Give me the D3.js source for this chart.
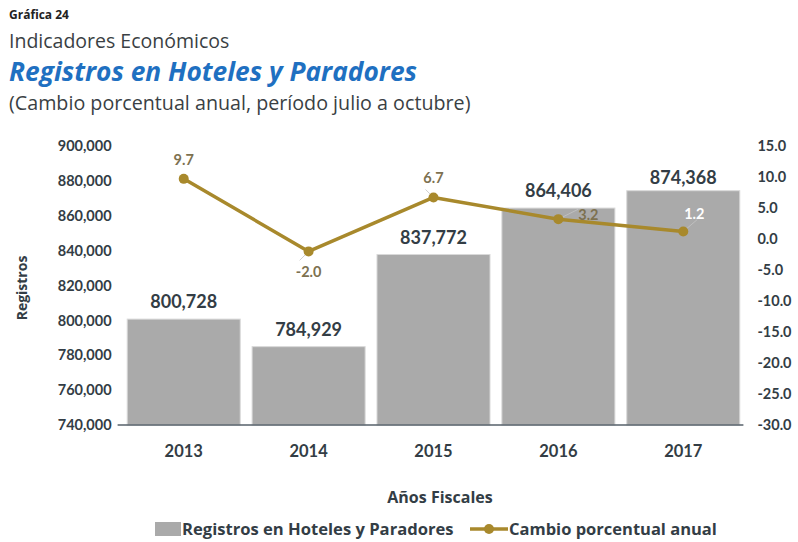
<!DOCTYPE html>
<html>
<head>
<meta charset="utf-8">
<script src="https://cdn.jsdelivr.net/npm/d3@7"></script>
<style>
  body { margin: 0; background: #fff; }
  svg { font-family: Lato, "Open Sans", sans-serif; }
  .wide { font-family: "Open Sans", sans-serif; }
</style>
</head>
<body>
<div id="chart"></div>
<script>
// data
const years = ["2013", "2014", "2015", "2016", "2017"];
const registros = [800728, 784929, 837772, 864406, 874368];
const cambio = [9.7, -2.0, 6.7, 3.2, 1.2];
const leftTicks = [740000, 760000, 780000, 800000, 820000, 840000, 860000, 880000, 900000];
const rightTicks = [-30, -25, -20, -15, -10, -5, 0, 5, 10, 15];

const W = 798, H = 542;
const plot = {left: 121.6, right: 745.4, top: 146, bottom: 425};
const textDark = "#333d45";
const gold = "#a8892c";
const labelOlive = "#7d7150";

// plain hyphen for negatives, like the original
const loc = d3.formatLocale({decimal: ".", thousands: ",", grouping: [3], currency: ["$", ""], minus: "-"});
const fmtPct = loc.format(".1f");
const fmtInt = loc.format(",");

const svg = d3.select("#chart").append("svg")
  .attr("width", W).attr("height", H);

// heading block
svg.append("text").attr("class", "wide").attr("x", 9).attr("y", 19)
  .attr("font-size", 12).attr("font-weight", "bold").attr("fill", "#222")
  .text("Gráfica 24");
svg.append("text").attr("class", "wide").attr("x", 9).attr("y", 48)
  .attr("font-size", 19.5).attr("fill", "#3a3f44")
  .text("Indicadores Económicos");
svg.append("text").attr("class", "wide").attr("x", 9).attr("y", 81)
  .attr("font-size", 26.3).attr("font-weight", "bold").attr("font-style", "italic")
  .attr("fill", "#1f70c1")
  .text("Registros en Hoteles y Paradores");
svg.append("text").attr("class", "wide").attr("x", 9).attr("y", 110)
  .attr("font-size", 19.7).attr("fill", "#3a3f44")
  .text("(Cambio porcentual anual, período julio a octubre)");

// scales
const x = d3.scaleBand().domain(years)
  .range([plot.left, plot.right]).paddingInner(0.095).paddingOuter(0.045);
const y = d3.scaleLinear().domain([740000, 900000]).range([plot.bottom, plot.top]);
const y2 = d3.scaleLinear().domain([-30, 15]).range([plot.bottom, plot.top]);

// bars
svg.append("g").selectAll("rect")
  .data(years)
  .join("rect")
    .attr("x", d => x(d))
    .attr("y", (d, i) => y(registros[i]))
    .attr("width", x.bandwidth())
    .attr("height", (d, i) => plot.bottom - y(registros[i]))
    .attr("fill", "#aaaaaa")
    .attr("stroke", "#d9d9d9")
    .attr("stroke-width", 1);

// bar value labels
svg.append("g").selectAll("text")
  .data(years)
  .join("text")
    .attr("x", d => x(d) + x.bandwidth() / 2)
    .attr("y", (d, i) => y(registros[i]) - (i == 4 ? 7 : 11))
    .attr("text-anchor", "middle")
    .attr("font-size", 18).attr("font-weight", "bold").attr("fill", textDark)
    .text((d, i) => fmtInt(registros[i]));

// baseline
svg.append("line")
  .attr("x1", plot.left - 4).attr("x2", plot.right - 2)
  .attr("y1", plot.bottom).attr("y2", plot.bottom)
  .attr("stroke", "#56606a").attr("stroke-width", 1.5);

// left axis
const leftAxis = svg.append("g")
  .attr("transform", `translate(${plot.left - 10},0)`)
  .call(d3.axisLeft(y).tickValues(leftTicks).tickSize(0).tickPadding(0)
    .tickFormat(fmtInt));
leftAxis.select(".domain").remove();
leftAxis.selectAll("text")
  .attr("font-family", "Lato, sans-serif").attr("font-size", 14.5)
  .attr("font-weight", "bold").attr("fill", textDark);

// right axis
const rightAxis = svg.append("g")
  .attr("transform", `translate(${plot.right + 12},0)`)
  .call(d3.axisRight(y2).tickValues(rightTicks).tickSize(0).tickPadding(0)
    .tickFormat(fmtPct));
rightAxis.select(".domain").remove();
rightAxis.selectAll("text")
  .attr("font-family", "Lato, sans-serif").attr("font-size", 14.5)
  .attr("font-weight", "bold").attr("fill", textDark);

// x axis labels
const xAxis = svg.append("g")
  .attr("transform", `translate(0,${plot.bottom})`)
  .call(d3.axisBottom(x).tickSize(0).tickPadding(20));
xAxis.select(".domain").remove();
xAxis.selectAll("text")
  .attr("font-family", "Lato, sans-serif").attr("font-size", 16.5)
  .attr("font-weight", "bold").attr("fill", textDark);

// axis titles
svg.append("text").attr("class", "wide")
  .attr("transform", "translate(27,288) rotate(-90)")
  .attr("text-anchor", "middle")
  .attr("font-size", 14).attr("font-weight", "bold").attr("fill", textDark)
  .text("Registros");
svg.append("text").attr("class", "wide")
  .attr("x", 440).attr("y", 503).attr("text-anchor", "middle")
  .attr("font-size", 16).attr("font-weight", "bold").attr("fill", textDark)
  .text("Años Fiscales");

// line series
const cx = d => x(d) + x.bandwidth() / 2;
const pts = years.map((d, i) => [cx(d), y2(cambio[i])]);

// leader lines to the labels
const leaders = [null, [-9, 9], [-8, -8], [20, -10], [14, -12]];
svg.append("g").selectAll("line")
  .data(leaders.map((l, i) => l ? {l, p: pts[i]} : null).filter(d => d))
  .join("line")
    .attr("x1", d => d.p[0]).attr("y1", d => d.p[1])
    .attr("x2", d => d.p[0] + d.l[0]).attr("y2", d => d.p[1] + d.l[1])
    .attr("stroke", "#c4c4c4").attr("stroke-width", 0.8);

svg.append("path")
  .datum(pts)
  .attr("d", d3.line())
  .attr("fill", "none").attr("stroke", gold).attr("stroke-width", 3.5)
  .attr("stroke-linejoin", "round");

svg.append("g").selectAll("circle")
  .data(pts)
  .join("circle")
    .attr("cx", d => d[0]).attr("cy", d => d[1]).attr("r", 5)
    .attr("fill", gold);

// line labels
const lblOff = [[0, -14], [0, 26], [0, -14], [30, 1], [11, -13]];
svg.append("g").selectAll("text")
  .data(pts)
  .join("text")
    .attr("x", (d, i) => d[0] + lblOff[i][0])
    .attr("y", (d, i) => d[1] + lblOff[i][1])
    .attr("text-anchor", "middle")
    .attr("font-size", 14.5).attr("font-weight", "bold")
    .attr("fill", (d, i) => i == 4 ? "#ffffff" : labelOlive)
    .text((d, i) => fmtPct(cambio[i]));

// legend
const leg = svg.append("g");
leg.append("rect").attr("x", 155).attr("y", 522).attr("width", 26).attr("height", 14)
  .attr("fill", "#aaaaaa");
leg.append("text").attr("class", "wide").attr("x", 182).attr("y", 535)
  .attr("font-size", 16.6).attr("font-weight", "bold").attr("fill", textDark)
  .text("Registros en Hoteles y Paradores");
leg.append("line").attr("x1", 470).attr("x2", 508).attr("y1", 529).attr("y2", 529)
  .attr("stroke", gold).attr("stroke-width", 3.5);
leg.append("circle").attr("cx", 489).attr("cy", 529).attr("r", 5).attr("fill", gold);
leg.append("text").attr("class", "wide").attr("x", 509).attr("y", 535)
  .attr("font-size", 16.5).attr("font-weight", "bold").attr("fill", textDark)
  .text("Cambio porcentual anual");
</script>
</body>
</html>
